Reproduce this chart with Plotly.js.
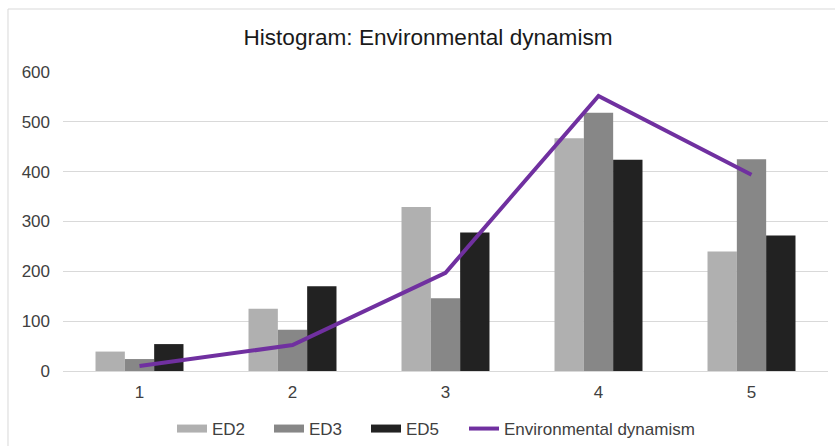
<!DOCTYPE html>
<html>
<head>
<meta charset="utf-8">
<script src="https://cdn.plot.ly/plotly-3.0.1.min.js"></script>
<style>
  html, body { margin: 0; padding: 0; background: #ffffff; }
  #chart { width: 835px; height: 446px; }
</style>
</head>
<body>
<div id="chart"></div>
<script>
// Response categories (Likert scale points)
const categories = ['1', '2', '3', '4', '5'];

// Frequency counts per item
const ed2 = [39, 125, 329, 467, 240];
const ed3 = [24, 83, 146, 518, 425];
const ed5 = [54, 170, 278, 424, 272];

// Construct-level frequency
const envDynamism = [10, 52, 197, 552, 394];

const seriesNames = ['ED2', 'ED3', 'ED5', 'Environmental dynamism'];
const barColors = ['#b0b0b0', '#878787', '#222222'];
const lineColor = '#7030a0';

const FONT = 'Liberation Sans, Arial, sans-serif';
const W = 835, H = 446;

const barData = [ed2, ed3, ed5];
const traces = barData.map((vals, i) => ({
  type: 'bar',
  name: seriesNames[i],
  x: categories,
  y: vals,
  marker: { color: barColors[i] },
  legendgroup: seriesNames[i],
  showlegend: false,
  hoverinfo: 'x+y+name'
}));

traces.push({
  type: 'scatter',
  mode: 'lines',
  name: seriesNames[3],
  x: categories,
  y: envDynamism,
  line: { color: lineColor, width: 4 },
  showlegend: false
});

// One legend per entry so each swatch sits at its own spot along the bottom row
const legendIds = ['legend', 'legend2', 'legend3', 'legend4'];
const legendLeft = [172, 269, 366, 464];
const swatchColors = barColors.concat([lineColor]);
const swatchWidths = [8, 8, 8, 4];

seriesNames.forEach((name, i) => {
  traces.push({
    type: 'scatter',
    mode: 'lines',
    name: name,
    x: [null],
    y: [null],
    legend: legendIds[i],
    legendgroup: name,
    line: { color: swatchColors[i], width: swatchWidths[i] },
    hoverinfo: 'skip'
  });
});

const layout = {
  width: W,
  height: H,
  margin: { l: 63, r: 7, t: 72, b: 75 },
  paper_bgcolor: '#ffffff',
  plot_bgcolor: '#ffffff',
  font: { family: FONT, size: 17, color: '#404040' },
  title: {
    text: 'Histogram: Environmental dynamism',
    font: { family: FONT, size: 22.6, color: '#1a1a1a' },
    x: 0.5126,
    xanchor: 'center',
    y: 0.917,
    yanchor: 'middle'
  },
  barmode: 'group',
  bargap: 0.425,
  bargroupgap: 0,
  xaxis: {
    type: 'category',
    showgrid: false,
    showline: false,
    zeroline: false,
    ticks: '',
    ticklabelstandoff: 9,
    tickfont: { family: FONT, size: 17, color: '#404040' }
  },
  yaxis: {
    range: [0, 600],
    dtick: 100,
    showgrid: true,
    gridcolor: '#d9d9d9',
    gridwidth: 1,
    zeroline: true,
    zerolinecolor: '#d9d9d9',
    zerolinewidth: 1,
    showline: false,
    ticks: '',
    ticklabelstandoff: 12,
    tickfont: { family: FONT, size: 17, color: '#404040' }
  },
  shapes: [{
    type: 'rect',
    xref: 'paper',
    yref: 'paper',
    x0: -0.0719,
    x1: 1.2,
    y0: -0.5,
    y1: 1.2107,
    line: { color: '#d9d9d9', width: 1 },
    fillcolor: 'rgba(0,0,0,0)',
    layer: 'below'
  }],
  showlegend: true
};

legendIds.forEach((id, i) => {
  layout[id] = {
    orientation: 'h',
    xref: 'container',
    yref: 'container',
    x: legendLeft[i] / W,
    xanchor: 'left',
    y: 1 - 429 / H,
    yanchor: 'middle',
    font: { family: FONT, size: 17, color: '#404040' },
    bgcolor: 'rgba(0,0,0,0)'
  };
});

Plotly.newPlot('chart', traces, layout, { displayModeBar: false, staticPlot: true });
</script>
</body>
</html>
